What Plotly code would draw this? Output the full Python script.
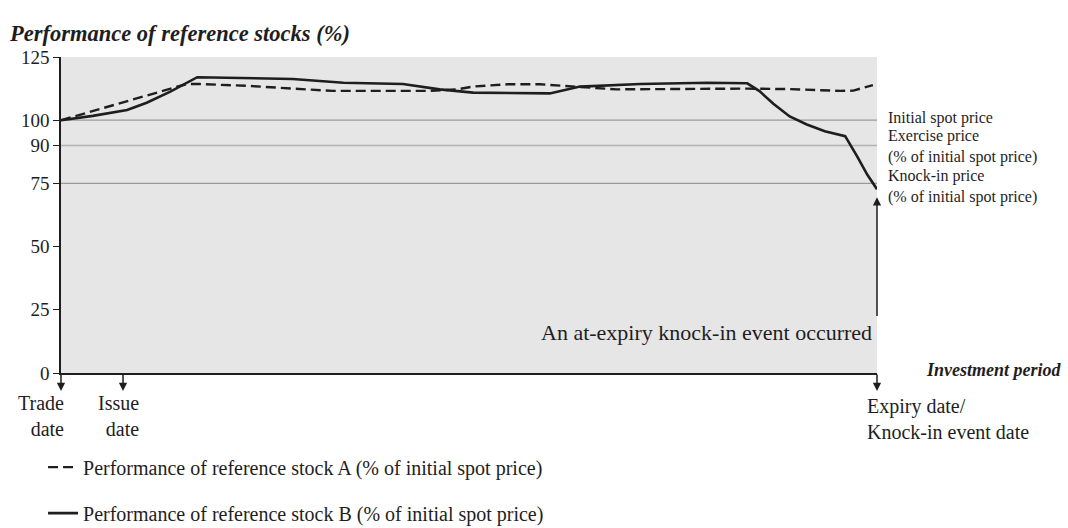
import plotly.graph_objects as go

# ---- data (x = position within investment period, 0 = trade date, 100 = expiry) ----
stock_a_x = [0, 15.4, 17.0, 22.8, 28.4, 33.3, 44.9, 48.5, 50.5, 54.7, 58.7, 62.7, 68.1, 84.1, 89.3, 95.5, 97.1, 99.5]
stock_a_y = [100, 114.3, 114.3, 113.6, 112.5, 111.6, 111.6, 112.2, 113.3, 114.2, 114.2, 113.3, 112.2, 112.5, 112.3, 111.6, 111.7, 113.9]

stock_b_x = [0, 3.9, 8.1, 10.5, 13.4, 15.2, 16.7, 28.4, 34.6, 41.9, 46.4, 50.5, 59.9, 63.6, 71.0, 79.2, 84.1, 85.6, 87.3, 89.3, 91.4, 93.6, 96.1, 97.6, 98.8, 100]
stock_b_y = [100, 101.7, 104, 106.9, 111.3, 114.3, 117, 116.3, 114.8, 114.3, 112.2, 110.9, 110.6, 113.3, 114.3, 114.8, 114.6, 111.5, 106.5, 101.5, 98.3, 95.6, 93.7, 85.5, 78.5, 72.7]

series_names = ["Performance of reference stock A (% of initial spot price)",
                "Performance of reference stock B (% of initial spot price)"]

y_ticks = [0, 25, 50, 75, 90, 100, 125]
levels = [100, 90, 75]
level_labels = ["Initial spot price",
                "Exercise price<br>(% of initial spot price)",
                "Knock-in price<br>(% of initial spot price)"]
level_label_shift = [2, -1, -3]   # small pixel nudges so the blocks do not collide

date_pos = [0, 7.6, 100]
date_labels = ["Trade<br>date", "Issue<br>date", "Expiry date/<br>Knock-in event date"]

knock_in_arrow = [22, 69.5]   # tail, tip (value axis)
knock_in_text = "An at-expiry knock-in event occurred"

FONT = "Liberation Serif, Times New Roman, serif"
INK = "#1e1e1e"

fig = go.Figure()
fig.add_trace(go.Scatter(x=stock_a_x, y=stock_a_y, mode="lines", name=series_names[0],
                         legendgroup="a",
                         line=dict(color=INK, width=2.4, dash="10px,5px")))
fig.add_trace(go.Scatter(x=stock_b_x, y=stock_b_y, mode="lines", name=series_names[1],
                         legendgroup="b",
                         line=dict(color=INK, width=2.6)))

# reference levels
for lv, c in zip(levels, ["#9a9a9a", "#b2b2b2", "#9a9a9a"]):
    fig.add_shape(type="line", xref="x", yref="y", x0=0, x1=100, y0=lv, y1=lv,
                  line=dict(color=c, width=1.3), layer="below")

# right-side labels for levels
for lv, t, s in zip(levels, level_labels, level_label_shift):
    fig.add_annotation(x=100, y=lv, xref="x", yref="y", text=t, showarrow=False,
                       xanchor="left", yanchor="middle", align="left", xshift=9, yshift=s,
                       font=dict(family=FONT, size=16, color=INK))

# date arrows & labels below the axis
for i, (p, lab) in enumerate(zip(date_pos, date_labels)):
    fig.add_annotation(x=p, y=0, xref="x", yref="y", text="", showarrow=True,
                       ax=0, ay=-18, arrowhead=2, arrowsize=1.1, arrowwidth=1.5,
                       arrowcolor=INK, yshift=-18)
    if i < 2:
        fig.add_annotation(x=p, y=0, xref="x", yref="y", text=lab, showarrow=False,
                           xanchor="right", yanchor="top", align="right",
                           xshift=5 if i == 0 else 18, yshift=-17,
                           font=dict(family=FONT, size=20, color=INK))
    else:
        fig.add_annotation(x=p, y=0, xref="x", yref="y", text=lab, showarrow=False,
                           xanchor="left", yanchor="top", align="left",
                           xshift=-12, yshift=-20,
                           font=dict(family=FONT, size=20, color=INK))

# knock-in arrow
fig.add_annotation(x=100, y=knock_in_arrow[1], ax=100, ay=knock_in_arrow[0],
                   xref="x", yref="y", axref="x", ayref="y", text="", showarrow=True,
                   arrowhead=2, arrowsize=1.1, arrowwidth=1.5, arrowcolor=INK)
fig.add_annotation(x=100, y=16.2, xref="x", yref="y", text=knock_in_text, showarrow=False,
                   xanchor="right", yanchor="middle", xshift=-3,
                   font=dict(family=FONT, size=22, color=INK))

# x-axis title
fig.add_annotation(x=100, y=0, xref="x", yref="y", text="<b><i>Investment period</i></b>",
                   showarrow=False, xanchor="right", yanchor="middle", xshift=186, yshift=3,
                   font=dict(family=FONT, size=18, color=INK))

fig.update_layout(
    width=1068, height=528,
    margin=dict(l=61, r=191, t=57, b=155, autoexpand=False),
    paper_bgcolor="white", plot_bgcolor="#e6e6e6",
    title=dict(text="<b><i>Performance of reference stocks (%)</i></b>",
               x=10 / 1068, xanchor="left", xref="container",
               y=1 - 33 / 528, yanchor="middle", yref="container",
               font=dict(family=FONT, size=22.5, color=INK)),
    font=dict(family=FONT, color=INK),
    showlegend=True,
    legend=dict(x=-0.022, xanchor="left", y=-0.236, yanchor="top",
                orientation="v", traceorder="grouped", tracegroupgap=17,
                font=dict(family=FONT, size=20, color=INK),
                bgcolor="rgba(0,0,0,0)"),
    xaxis=dict(range=[0, 100], showgrid=False, zeroline=False, showticklabels=False,
               ticks="", showline=True, linecolor=INK, linewidth=1.5, fixedrange=True),
    yaxis=dict(range=[0, 125], tickvals=y_ticks, ticktext=[str(v) for v in y_ticks],
               showgrid=False, zeroline=False, ticks="outside", ticklen=6, tickwidth=1.2,
               tickcolor=INK, showline=True, linecolor=INK, linewidth=1.5,
               tickfont=dict(family=FONT, size=19, color=INK), fixedrange=True),
)

fig.write_html("out.html", config={"displayModeBar": False},
               post_script="document.body.style.margin='0';document.body.style.overflow='hidden';")
